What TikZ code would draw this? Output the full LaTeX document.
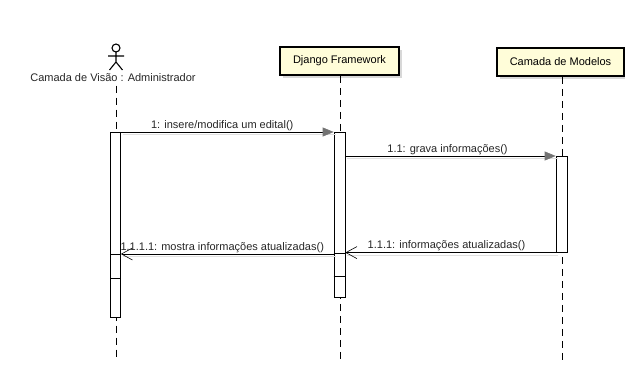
\documentclass[tikz,border=0pt]{standalone}
\usepackage{fontspec}
\setmainfont{Liberation Sans}
\usetikzlibrary{arrows.meta,shadows}
\tikzset{
  >={Straight Barb[length=11pt,width=12pt]},
  objbox/.style={draw,line width=1.6pt,fill=yellow!15,minimum height=28pt,
    inner sep=2pt,font=\fontsize{11}{13}\selectfont,
    drop shadow={shadow xshift=3pt,shadow yshift=-3pt,fill=black!30}},
  lifeline/.style={dash pattern=on 7pt off 5pt,line width=0.8pt},
  actbox/.style={draw,fill=white,line width=0.6pt,minimum width=10pt,inner sep=0pt,anchor=north},
  msgshadow/.style={preaction={draw=black!12,line width=1pt,-,transform canvas={shift={(2pt,-3pt)}}}},
  msg/.style={msgshadow,line width=0.6pt,-{Triangle[length=11pt,width=9pt,color=black!55]}},
  retmsg/.style={msgshadow,line width=0.6pt,->},
  msglabel/.style={font=\fontsize{11}{13}\selectfont,inner sep=1pt,text=black!85}
}
\begin{document}
\begin{tikzpicture}[x=1pt,y=-1pt]
  \useasboundingbox (0,0) rectangle (625,385);
  % participants
  \node[objbox,minimum width=119pt] (dj) at (339.5,61) {Django Framework};
  \node[objbox,minimum width=127pt] (mod) at (560.5,62) {Camada de Modelos};
  % actor
  \draw[line width=1.1pt] (116,48) circle (4);
  \draw[line width=1.1pt] (116,52) -- (116,62)
    (108,56) -- (124,56)
    (109.5,70) -- (116,62) -- (122.5,70);
  \node[font=\fontsize{11}{13}\selectfont,text=black!85] (adm) at (113,78) {Camada de Visão : Administrador};
  % lifelines
  \coordinate (admEnd) at (116,360);
  \coordinate (djEnd) at (340,360);
  \coordinate (modEnd) at (562,360);
  \draw[lifeline] (adm.south -| admEnd) -- (admEnd);
  \draw[lifeline] (dj.south -| djEnd) -- (djEnd);
  \draw[lifeline] (mod.south -| modEnd) -- (modEnd);
  % activations
  \node[actbox,minimum height=185pt] (aAdm) at (115.5,132) {};
  \node[actbox,minimum height=165pt,minimum width=11pt] (aDj) at (339.5,132) {};
  \node[actbox,minimum height=96pt,minimum width=11pt] (aMod) at (561.5,156) {};
  \draw[line width=0.6pt] (aAdm.west |- 0,254) -- (aAdm.east |- 0,254)
    (aAdm.west |- 0,278) -- (aAdm.east |- 0,278);
  \draw[line width=0.6pt] (aDj.west |- 0,253) -- (aDj.east |- 0,253)
    (aDj.west |- 0,276) -- (aDj.east |- 0,276);
  % messages
  \coordinate (m2s) at (aDj.east |- aMod.north);
  \coordinate (m3e) at (aDj.east |- aMod.south);
  \coordinate (m4s) at (aDj.west |- 0,254);
  \coordinate (m4e) at (aAdm.east |- 0,254);
  \draw[msg] (aAdm.north east) -- node[msglabel,above,xshift=-5pt] {1: insere/modifica um edital()} (aDj.north west);
  \draw[msg] (m2s) -- node[msglabel,above,xshift=-3pt] {1.1: grava informações()} (aMod.north west);
  \draw[retmsg] (aMod.south west) -- node[msglabel,above,xshift=-4pt] {1.1.1: informações atualizadas()} (m3e);
  \draw[retmsg] (m4s) -- node[msglabel,above,xshift=-5pt] {1.1.1.1: mostra informações atualizadas()} (m4e);
\end{tikzpicture}
\end{document}
